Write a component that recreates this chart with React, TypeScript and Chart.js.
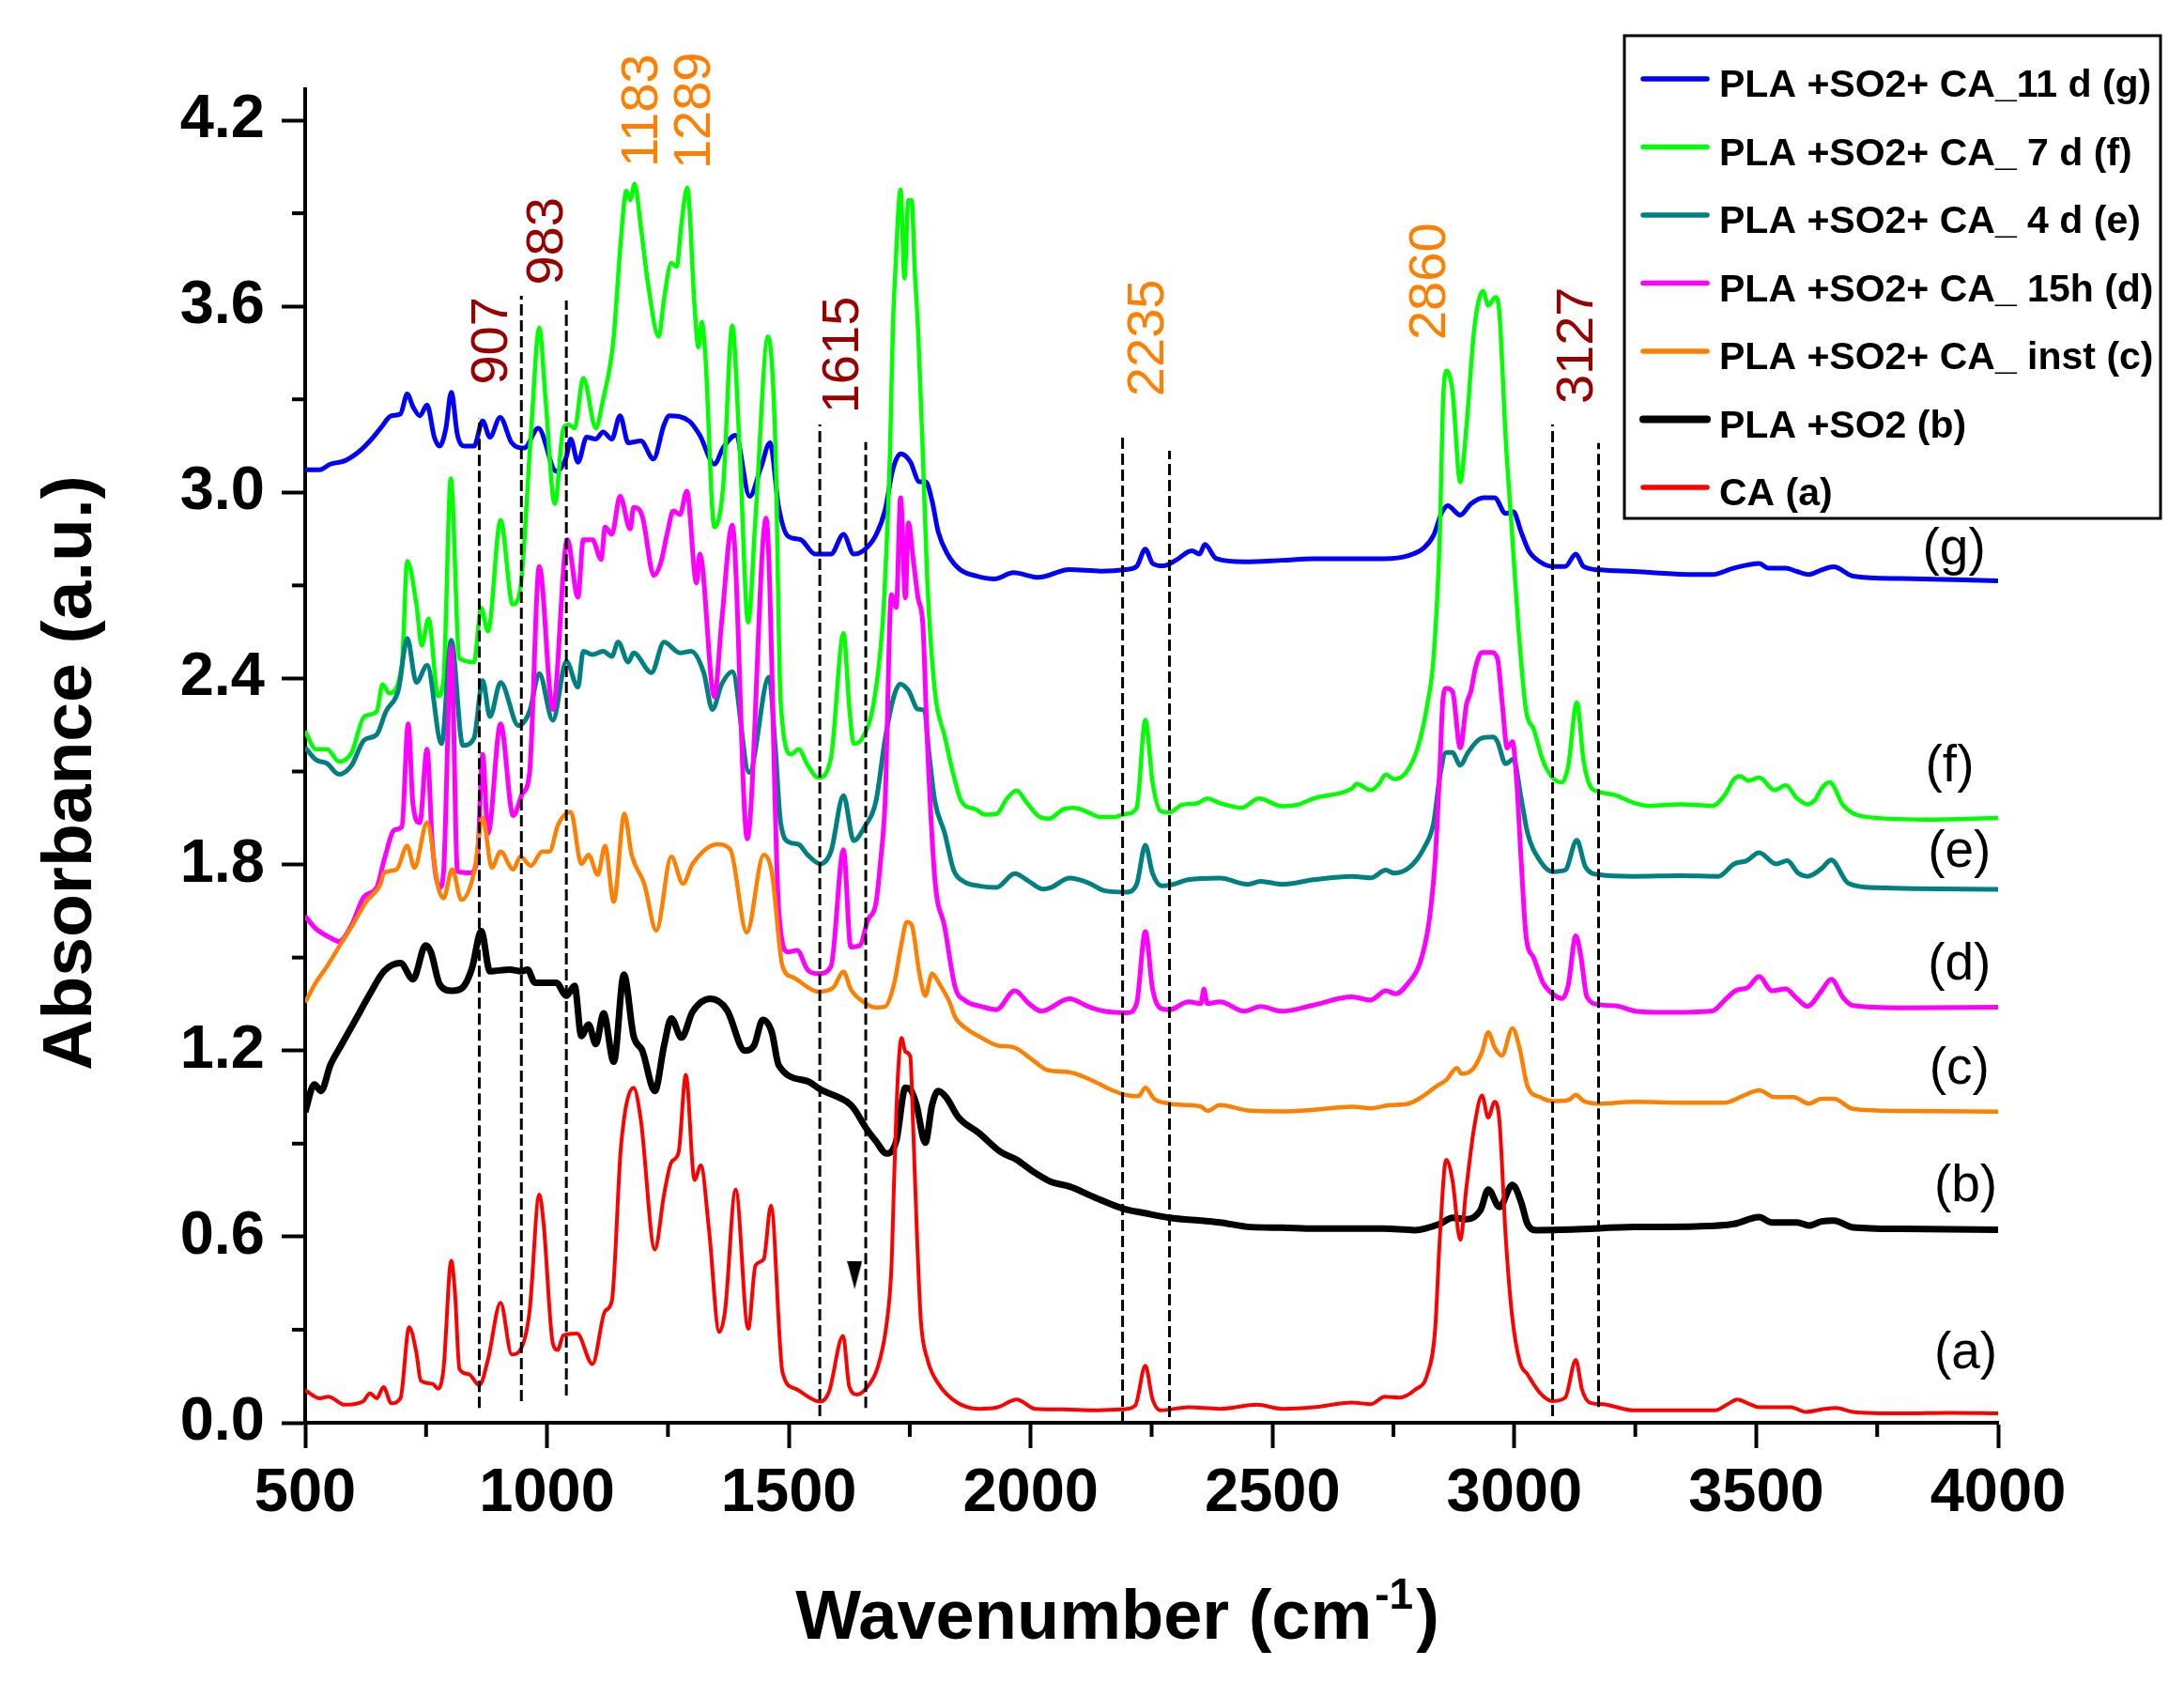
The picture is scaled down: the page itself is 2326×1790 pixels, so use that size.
import { useEffect, useRef } from "react"
import { Chart, registerables } from "chart.js"

Chart.register(...registerables)

const FONT = "'Liberation Sans', Arial, Helvetica, sans-serif"

// spectra as [wavenumber (cm-1), absorbance (a.u.)]
const caA = [
  [500, 0.105], [530, 0.079], [548, 0.084], [582, 0.058], [619, 0.068], [634, 0.095], [648, 0.079],
  [662, 0.115], [678, 0.063], [697, 0.079], [715, 0.308], [730, 0.225], [739, 0.136], [763, 0.126],
  [775, 0.11], [786, 0.173], [802, 0.522], [810, 0.413], [819, 0.173], [838, 0.157], [860, 0.121],
  [878, 0.204], [904, 0.387], [927, 0.22], [947, 0.241], [964, 0.36], [984, 0.736], [993, 0.642],
  [1012, 0.256], [1022, 0.235], [1034, 0.282], [1062, 0.288], [1094, 0.189], [1120, 0.36], [1134, 0.392],
  [1153, 0.892], [1179, 1.08], [1194, 0.976], [1223, 0.559], [1242, 0.736], [1257, 0.84], [1272, 0.872],
  [1287, 1.122], [1305, 0.783], [1318, 0.83], [1335, 0.621], [1356, 0.293], [1368, 0.36], [1390, 0.752],
  [1416, 0.303], [1431, 0.507], [1448, 0.527], [1463, 0.7], [1487, 0.162], [1513, 0.11], [1565, 0.068],
  [1583, 0.1], [1612, 0.28], [1625, 0.116], [1641, 0.091], [1660, 0.111], [1683, 0.176], [1702, 0.318],
  [1712, 0.499], [1718, 0.802], [1725, 1.105], [1733, 1.241], [1741, 1.196], [1751, 1.181], [1757, 0.954],
  [1765, 0.6], [1773, 0.328], [1786, 0.207], [1809, 0.126], [1848, 0.065], [1893, 0.045], [1932, 0.05],
  [1971, 0.075], [2009, 0.045], [2067, 0.043], [2132, 0.04], [2190, 0.043], [2216, 0.055], [2237, 0.184],
  [2252, 0.075], [2268, 0.04], [2326, 0.05], [2391, 0.045], [2468, 0.058], [2520, 0.045], [2585, 0.05],
  [2664, 0.065], [2703, 0.06], [2732, 0.084], [2762, 0.081], [2794, 0.106], [2820, 0.156], [2836, 0.298],
  [2846, 0.6], [2859, 0.848], [2872, 0.782], [2888, 0.59], [2901, 0.762], [2917, 0.954], [2933, 1.055],
  [2946, 0.984], [2959, 1.035], [2969, 0.974], [2982, 0.6], [2995, 0.348], [3011, 0.197], [3027, 0.156],
  [3053, 0.096], [3079, 0.07], [3105, 0.081], [3127, 0.202], [3140, 0.106], [3156, 0.065], [3182, 0.06],
  [3247, 0.04], [3344, 0.04], [3415, 0.04], [3441, 0.06], [3461, 0.075], [3486, 0.06], [3506, 0.05],
  [3571, 0.05], [3603, 0.035], [3635, 0.043], [3665, 0.048], [3700, 0.035], [3800, 0.03], [3900, 0.032],
  [4000, 0.03],
]

const plaSo2B = [
  [500, 1.002], [519, 1.091], [533, 1.07], [552, 1.153], [574, 1.216], [604, 1.299], [634, 1.383],
  [663, 1.456], [697, 1.482], [723, 1.43], [749, 1.539], [760, 1.518], [778, 1.414], [804, 1.393],
  [826, 1.404], [845, 1.466], [864, 1.585], [882, 1.456], [923, 1.461], [947, 1.456], [960, 1.461],
  [975, 1.419], [1019, 1.419], [1040, 1.377], [1057, 1.409], [1071, 1.247], [1086, 1.284], [1101, 1.221],
  [1117, 1.32], [1138, 1.164], [1159, 1.445], [1179, 1.247], [1197, 1.2], [1223, 1.07], [1242, 1.216],
  [1257, 1.304], [1278, 1.242], [1301, 1.325], [1338, 1.367], [1372, 1.331], [1409, 1.2], [1428, 1.216],
  [1446, 1.299], [1465, 1.258], [1479, 1.153], [1539, 1.101], [1565, 1.075], [1620, 1.035], [1634, 1.014],
  [1660, 0.949], [1680, 0.908], [1702, 0.868], [1722, 0.908], [1741, 1.08], [1751, 1.075], [1764, 1.024],
  [1782, 0.903], [1796, 1.024], [1809, 1.07], [1825, 1.05], [1851, 0.984], [1893, 0.934], [1938, 0.873],
  [1971, 0.848], [2003, 0.812], [2042, 0.777], [2080, 0.762], [2132, 0.727], [2190, 0.691], [2236, 0.676],
  [2287, 0.661], [2358, 0.651], [2391, 0.646], [2455, 0.631], [2520, 0.629], [2585, 0.626], [2664, 0.626],
  [2729, 0.626], [2794, 0.621], [2846, 0.641], [2872, 0.661], [2901, 0.656], [2930, 0.686], [2946, 0.752],
  [2969, 0.696], [2996, 0.767], [3014, 0.711], [3027, 0.641], [3046, 0.621], [3118, 0.623], [3247, 0.631],
  [3376, 0.633], [3454, 0.641], [3506, 0.663], [3532, 0.646], [3584, 0.646], [3609, 0.636], [3635, 0.649],
  [3660, 0.652], [3700, 0.63], [3800, 0.625], [4000, 0.622],
]

const instC = [
  [500, 1.355], [522, 1.419], [545, 1.471], [570, 1.535], [596, 1.599], [626, 1.68], [656, 1.738],
  [663, 1.773], [689, 1.784], [711, 1.86], [726, 1.79], [752, 1.935], [775, 1.726], [786, 1.691],
  [804, 1.784], [823, 1.686], [849, 1.773], [867, 1.952], [886, 1.79], [904, 1.842], [930, 1.784],
  [945, 1.825], [967, 1.796], [990, 1.842], [1005, 1.842], [1023, 1.929], [1049, 1.97], [1071, 1.802],
  [1086, 1.831], [1105, 1.767], [1120, 1.86], [1138, 1.68], [1160, 1.964], [1175, 1.831], [1201, 1.738],
  [1226, 1.587], [1257, 1.825], [1281, 1.738], [1301, 1.802], [1353, 1.865], [1379, 1.848], [1413, 1.581],
  [1448, 1.831], [1465, 1.773], [1487, 1.471], [1509, 1.436], [1561, 1.39], [1591, 1.402], [1613, 1.454],
  [1628, 1.398], [1654, 1.357], [1680, 1.339], [1699, 1.342], [1718, 1.418], [1731, 1.529], [1744, 1.615],
  [1754, 1.605], [1770, 1.448], [1782, 1.377], [1796, 1.448], [1812, 1.413], [1832, 1.357], [1844, 1.307],
  [1867, 1.271], [1899, 1.241], [1932, 1.216], [1964, 1.211], [2003, 1.171], [2035, 1.137], [2080, 1.13],
  [2132, 1.1], [2164, 1.075], [2197, 1.057], [2223, 1.053], [2237, 1.08], [2255, 1.045], [2287, 1.029],
  [2326, 1.024], [2352, 1.019], [2365, 1.006], [2391, 1.024], [2455, 1.006], [2520, 1.004], [2585, 1.009],
  [2664, 1.019], [2703, 1.014], [2742, 1.024], [2781, 1.029], [2813, 1.055], [2839, 1.085], [2859, 1.105],
  [2881, 1.144], [2891, 1.125], [2914, 1.14], [2933, 1.196], [2946, 1.259], [2959, 1.211], [2974, 1.184],
  [2996, 1.272], [3011, 1.206], [3027, 1.085], [3053, 1.05], [3079, 1.037], [3111, 1.04], [3127, 1.057],
  [3143, 1.037], [3176, 1.029], [3247, 1.035], [3344, 1.032], [3435, 1.032], [3474, 1.055], [3506, 1.072],
  [3538, 1.05], [3577, 1.05], [3609, 1.029], [3635, 1.045], [3660, 1.045], [3700, 1.012], [3800, 1.005],
  [4000, 1.003],
]

const h15D = [
  [500, 1.634], [522, 1.593], [552, 1.564], [570, 1.552], [596, 1.605], [622, 1.697], [648, 1.726],
  [663, 1.813], [685, 1.912], [700, 1.923], [713, 2.254], [723, 1.993], [737, 1.935], [752, 2.172],
  [763, 1.865], [778, 1.726], [786, 1.773], [802, 2.5], [815, 1.778], [841, 1.773], [856, 1.819],
  [867, 2.155], [878, 1.9], [904, 2.254], [930, 1.958], [949, 2.028], [964, 2.097], [984, 2.761],
  [1012, 2.3], [1042, 2.847], [1064, 2.662], [1075, 2.847], [1094, 2.847], [1112, 2.784], [1120, 2.888],
  [1134, 2.865], [1151, 2.987], [1172, 2.882], [1179, 2.952], [1197, 2.923], [1221, 2.732], [1235, 2.772],
  [1249, 2.871], [1261, 2.94], [1275, 2.929], [1289, 3.004], [1309, 2.708], [1316, 2.801], [1346, 2.34],
  [1361, 2.581], [1383, 2.894], [1414, 1.883], [1453, 2.917], [1479, 1.657], [1498, 1.518], [1517, 1.523],
  [1539, 1.46], [1561, 1.448], [1587, 1.471], [1613, 1.848], [1628, 1.534], [1647, 1.539], [1663, 1.62],
  [1680, 1.675], [1689, 1.802], [1699, 2.003], [1712, 2.67], [1722, 2.629], [1731, 2.983], [1741, 2.66],
  [1747, 2.902], [1757, 2.786], [1767, 2.66], [1777, 2.574], [1786, 2.205], [1802, 1.751], [1822, 1.6],
  [1844, 1.403], [1864, 1.362], [1899, 1.342], [1929, 1.332], [1967, 1.393], [1996, 1.352], [2022, 1.327],
  [2080, 1.367], [2119, 1.342], [2152, 1.327], [2200, 1.322], [2219, 1.352], [2237, 1.584], [2252, 1.398],
  [2268, 1.337], [2287, 1.332], [2326, 1.357], [2352, 1.352], [2358, 1.398], [2365, 1.352], [2391, 1.357],
  [2442, 1.327], [2475, 1.342], [2520, 1.327], [2585, 1.347], [2664, 1.373], [2703, 1.363], [2734, 1.393],
  [2755, 1.383], [2781, 1.419], [2804, 1.479], [2823, 1.61], [2836, 1.812], [2846, 2.115], [2852, 2.327],
  [2859, 2.368], [2872, 2.358], [2888, 2.176], [2901, 2.317], [2910, 2.358], [2920, 2.438], [2933, 2.484],
  [2952, 2.484], [2965, 2.464], [2975, 2.317], [2985, 2.176], [2996, 2.196], [3004, 2.085], [3014, 1.812],
  [3024, 1.57], [3040, 1.499], [3059, 1.419], [3079, 1.383], [3098, 1.368], [3111, 1.409], [3127, 1.57],
  [3137, 1.509], [3150, 1.373], [3176, 1.348], [3215, 1.343], [3247, 1.328], [3312, 1.323], [3409, 1.328],
  [3435, 1.363], [3457, 1.393], [3483, 1.404], [3506, 1.439], [3532, 1.393], [3561, 1.399], [3584, 1.368],
  [3606, 1.343], [3635, 1.393], [3655, 1.43], [3680, 1.37], [3700, 1.345], [3800, 1.338], [4000, 1.34],
]

const d4E = [
  [500, 2.178], [522, 2.138], [545, 2.126], [570, 2.091], [596, 2.12], [622, 2.201], [648, 2.219],
  [667, 2.294], [693, 2.364], [711, 2.529], [730, 2.387], [752, 2.442], [782, 2.19], [802, 2.523],
  [826, 2.184], [849, 2.207], [867, 2.393], [882, 2.277], [904, 2.387], [941, 2.248], [964, 2.294],
  [984, 2.416], [1012, 2.265], [1040, 2.455], [1064, 2.372], [1075, 2.488], [1094, 2.477], [1116, 2.488],
  [1134, 2.471], [1147, 2.517], [1168, 2.453], [1179, 2.482], [1216, 2.419], [1242, 2.517], [1275, 2.482],
  [1298, 2.488], [1324, 2.419], [1342, 2.3], [1361, 2.381], [1383, 2.422], [1418, 2.097], [1459, 2.404],
  [1472, 2.178], [1483, 1.935], [1502, 1.871], [1520, 1.865], [1539, 1.831], [1565, 1.802], [1587, 1.842],
  [1613, 2.022], [1634, 1.877], [1657, 1.923], [1680, 2.003], [1699, 2.205], [1718, 2.347], [1730, 2.382],
  [1747, 2.362], [1767, 2.301], [1780, 2.296], [1790, 2.155], [1802, 2.003], [1822, 1.902], [1841, 1.781],
  [1861, 1.746], [1893, 1.731], [1929, 1.726], [1967, 1.771], [1996, 1.746], [2025, 1.721], [2042, 1.726],
  [2080, 1.756], [2119, 1.741], [2152, 1.716], [2197, 1.711], [2219, 1.736], [2237, 1.862], [2252, 1.771],
  [2271, 1.731], [2294, 1.736], [2326, 1.751], [2391, 1.756], [2449, 1.736], [2475, 1.746], [2520, 1.736],
  [2585, 1.751], [2664, 1.762], [2703, 1.757], [2734, 1.782], [2752, 1.772], [2784, 1.792], [2813, 1.853],
  [2833, 1.934], [2846, 2.085], [2859, 2.161], [2872, 2.161], [2888, 2.12], [2904, 2.161], [2930, 2.206],
  [2956, 2.211], [2965, 2.196], [2982, 2.125], [2998, 2.14], [3014, 2.014], [3027, 1.903], [3053, 1.812],
  [3079, 1.777], [3105, 1.782], [3129, 1.878], [3147, 1.792], [3176, 1.767], [3247, 1.762], [3344, 1.764],
  [3422, 1.762], [3454, 1.802], [3480, 1.812], [3506, 1.838], [3541, 1.802], [3564, 1.812], [3587, 1.772],
  [3606, 1.762], [3635, 1.787], [3655, 1.815], [3690, 1.74], [3750, 1.725], [4000, 1.72],
]

const d7F = [
  [500, 2.23], [522, 2.172], [545, 2.172], [570, 2.132], [596, 2.161], [622, 2.277], [648, 2.294],
  [660, 2.381], [674, 2.352], [700, 2.445], [711, 2.778], [730, 2.639], [741, 2.506], [755, 2.593],
  [775, 2.343], [786, 2.395], [801, 3.045], [819, 2.465], [849, 2.453], [864, 2.627], [878, 2.552],
  [904, 2.911], [929, 2.639], [945, 2.691], [967, 3.195], [984, 3.531], [997, 3.3], [1016, 2.963],
  [1034, 3.207], [1045, 3.218], [1057, 3.207], [1075, 3.369], [1101, 3.207], [1116, 3.3], [1131, 3.415],
  [1138, 3.502], [1153, 3.821], [1164, 3.972], [1172, 3.943], [1181, 3.995], [1194, 3.856], [1209, 3.67],
  [1231, 3.502], [1242, 3.624], [1257, 3.74], [1268, 3.728], [1278, 3.867], [1290, 3.983], [1305, 3.601],
  [1313, 3.468], [1320, 3.549], [1327, 3.45], [1346, 2.888], [1364, 3.016], [1383, 3.537], [1398, 3.149],
  [1416, 2.581], [1431, 2.917], [1457, 3.502], [1472, 3.16], [1483, 2.326], [1505, 2.155], [1520, 2.172],
  [1539, 2.12], [1561, 2.08], [1587, 2.144], [1613, 2.546], [1625, 2.306], [1634, 2.19], [1651, 2.205],
  [1676, 2.326], [1693, 2.559], [1699, 2.721], [1709, 3.124], [1715, 3.528], [1720, 3.71], [1731, 3.977],
  [1739, 3.69], [1747, 3.942], [1754, 3.942], [1760, 3.725], [1767, 3.528], [1777, 3.124], [1786, 2.721],
  [1802, 2.357], [1822, 2.215], [1838, 2.104], [1857, 2.003], [1886, 1.978], [1906, 1.961], [1929, 1.963],
  [1951, 2.013], [1971, 2.039], [1990, 2.003], [2019, 1.953], [2038, 1.948], [2067, 1.978], [2090, 1.983],
  [2119, 1.968], [2145, 1.953], [2171, 1.953], [2197, 1.963], [2219, 1.983], [2237, 2.266], [2252, 2.064],
  [2268, 1.973], [2287, 1.968], [2313, 1.993], [2345, 1.998], [2365, 2.013], [2391, 1.998], [2436, 1.983],
  [2472, 2.013], [2520, 1.988], [2552, 1.993], [2585, 2.013], [2664, 2.045], [2674, 2.06], [2703, 2.04],
  [2720, 2.06], [2734, 2.09], [2752, 2.075], [2775, 2.095], [2800, 2.176], [2820, 2.317], [2833, 2.469],
  [2846, 2.872], [2852, 3.275], [2860, 3.392], [2872, 3.326], [2888, 3.033], [2901, 3.215], [2917, 3.528],
  [2935, 3.649], [2946, 3.603], [2961, 3.629], [2969, 3.578], [2982, 3.174], [2995, 2.872], [3008, 2.569],
  [3024, 2.297], [3040, 2.236], [3059, 2.135], [3079, 2.08], [3098, 2.065], [3111, 2.115], [3129, 2.322],
  [3143, 2.135], [3156, 2.055], [3176, 2.034], [3208, 2.024], [3247, 1.999], [3279, 1.989], [3344, 1.994],
  [3409, 1.989], [3435, 2.024], [3454, 2.075], [3467, 2.085], [3483, 2.07], [3506, 2.08], [3538, 2.04],
  [3561, 2.055], [3584, 2.014], [3606, 1.994], [3622, 2.009], [3635, 2.045], [3652, 2.065], [3680, 1.99],
  [3720, 1.955], [3850, 1.945], [4000, 1.95],
]

const d11G = [
  [500, 3.073], [530, 3.073], [552, 3.091], [582, 3.102], [611, 3.131], [634, 3.166], [656, 3.207],
  [678, 3.247], [697, 3.253], [711, 3.317], [723, 3.276], [737, 3.247], [752, 3.282], [767, 3.178],
  [778, 3.149], [791, 3.207], [802, 3.323], [815, 3.184], [830, 3.149], [849, 3.149], [867, 3.23],
  [882, 3.178], [903, 3.242], [927, 3.16], [953, 3.143], [982, 3.207], [1019, 3.068], [1040, 3.114],
  [1049, 3.172], [1064, 3.097], [1082, 3.178], [1101, 3.172], [1116, 3.195], [1134, 3.172], [1151, 3.247],
  [1168, 3.16], [1194, 3.166], [1220, 3.108], [1242, 3.218], [1253, 3.247], [1294, 3.23], [1316, 3.184],
  [1346, 3.091], [1364, 3.143], [1390, 3.184], [1419, 2.987], [1442, 3.079], [1461, 3.16], [1479, 2.952],
  [1498, 2.859], [1524, 2.848], [1554, 2.801], [1587, 2.801], [1613, 2.865], [1634, 2.801], [1654, 2.812],
  [1680, 2.862], [1699, 2.943], [1715, 3.074], [1731, 3.124], [1751, 3.099], [1770, 3.034], [1783, 3.034],
  [1796, 2.973], [1809, 2.872], [1828, 2.801], [1854, 2.751], [1886, 2.731], [1925, 2.721], [1964, 2.741],
  [2016, 2.726], [2080, 2.751], [2145, 2.746], [2197, 2.751], [2219, 2.761], [2237, 2.817], [2252, 2.771],
  [2274, 2.763], [2300, 2.781], [2333, 2.812], [2349, 2.801], [2360, 2.832], [2384, 2.786], [2442, 2.776],
  [2520, 2.781], [2585, 2.786], [2664, 2.786], [2729, 2.786], [2781, 2.796], [2813, 2.821], [2833, 2.862],
  [2849, 2.932], [2862, 2.957], [2888, 2.927], [2910, 2.963], [2936, 2.983], [2959, 2.983], [2982, 2.932],
  [2998, 2.937], [3014, 2.872], [3030, 2.811], [3053, 2.776], [3079, 2.761], [3105, 2.761], [3127, 2.801],
  [3143, 2.761], [3176, 2.75], [3247, 2.745], [3376, 2.735], [3409, 2.735], [3454, 2.756], [3506, 2.771],
  [3525, 2.756], [3561, 2.756], [3584, 2.745], [3609, 2.735], [3635, 2.75], [3660, 2.76], [3700, 2.73],
  [3800, 2.722], [4000, 2.715],
]

// legend order, top to bottom
const seriesNames = [
  "PLA +SO2+ CA_11 d (g)",
  "PLA +SO2+ CA_ 7 d (f)",
  "PLA +SO2+ CA_ 4 d (e)",
  "PLA +SO2+ CA_ 15h (d)",
  "PLA +SO2+ CA_ inst (c)",
  "PLA +SO2 (b)",
  "CA (a)",
]
const seriesData = [d11G, d7F, d4E, h15D, instC, plaSo2B, caA]
const seriesColors = ["#0000FF", "#00FF00", "#008080", "#FF00FF", "#FF8000", "#000000", "#FF0000"]
const seriesWidths = [5, 4.5, 5, 5, 4.5, 7, 4]

// curve tags at the right end: [text, wavenumber, absorbance]
const curveTags = [
  ["(g)", 3909, 2.813],
  ["(f)", 3900, 2.114],
  ["(e)", 3920, 1.838],
  ["(d)", 3920, 1.475],
  ["(c)", 3920, 1.139],
  ["(b)", 3933, 0.76],
  ["(a)", 3933, 0.221],
]

// band labels: [text, wavenumber, absorbance, colour]
const bandLabels = [
  ["907", 888, 3.489, "#990000"],
  ["983", 1002, 3.81, "#990000"],
  ["1183", 1198, 4.231, "#FF8000"],
  ["1289", 1307, 4.231, "#FF8000"],
  ["1615", 1614, 3.443, "#990000"],
  ["2235", 2245, 3.498, "#FF8000"],
  ["2860", 2826, 3.68, "#FF8000"],
  ["3127", 3131, 3.474, "#990000"],
]

// dashed guide lines: [wavenumber, bottom, top]
const guideLines = [
  [860, 0.048, 3.24], [947, 0.07, 3.634], [1040, 0.088, 3.619],
  [1564, 0.021, 3.219], [1659, 0.048, 3.162],
  [2190, 0.0, 3.189], [2287, 0.018, 3.134],
  [3079, 0.021, 3.219], [3174, 0.051, 3.159],
]

const arrowMark = [1636, 0.476]

function makeTriangle() {
  const c = document.createElement("canvas")
  c.width = 16
  c.height = 30
  const g = c.getContext("2d")!
  g.fillStyle = "#000"
  g.beginPath()
  g.moveTo(0, 0)
  g.lineTo(16, 0)
  g.lineTo(8, 30)
  g.closePath()
  g.fill()
  return c
}

const minorTicks = {
  id: "minorTicks",
  afterDraw(chart: any) {
    const ctx = chart.ctx
    const { x, y } = chart.scales
    ctx.save()
    ctx.strokeStyle = "#000"
    ctx.lineWidth = 4
    y.ticks.forEach((t: any, i: number) => {
      if (i % 2 === 0) return
      const py = y.getPixelForValue(t.value)
      ctx.beginPath()
      ctx.moveTo(y.right - 14, py)
      ctx.lineTo(y.right, py)
      ctx.stroke()
    })
    x.ticks.forEach((t: any, i: number) => {
      if (i % 2 === 0) return
      const px = x.getPixelForValue(t.value)
      ctx.beginPath()
      ctx.moveTo(px, x.top)
      ctx.lineTo(px, x.top + 15)
      ctx.stroke()
    })
    ctx.restore()
  },
}

const annotations = {
  id: "annotations",
  afterDraw(chart: any) {
    const ctx = chart.ctx
    const { x, y } = chart.scales
    ctx.save()
    // band labels, rotated
    ctx.font = `56px ${FONT}`
    ctx.textAlign = "center"
    ctx.textBaseline = "middle"
    bandLabels.forEach(([t, wn, ab, col]: any) => {
      ctx.save()
      ctx.translate(x.getPixelForValue(wn), y.getPixelForValue(ab))
      ctx.rotate(-Math.PI / 2)
      ctx.fillStyle = col
      ctx.fillText(t, 0, 0)
      ctx.restore()
    })
    // curve tags
    ctx.font = `55px ${FONT}`
    ctx.fillStyle = "#000"
    curveTags.forEach(([t, wn, ab]: any) => {
      ctx.fillText(t, x.getPixelForValue(wn), y.getPixelForValue(ab))
    })

    // axis titles
    ctx.textBaseline = "alphabetic"
    ctx.save()
    ctx.translate(97, 823)
    ctx.rotate(-Math.PI / 2)
    ctx.font = `bold 75px ${FONT}`
    ctx.textAlign = "center"
    ctx.fillText("Absorbance (a.u.)", 0, 0)
    ctx.restore()

    ctx.textAlign = "left"
    const big = `bold 74px ${FONT}`
    const small = `bold 46px ${FONT}`
    ctx.font = big
    const w1 = ctx.measureText("Wavenumber (cm").width
    const w3 = ctx.measureText(")").width
    ctx.font = small
    const w2 = ctx.measureText("-1").width
    const start = 1190 - (w1 + w2 + w3 + 6) / 2
    const base = 1745
    ctx.font = big
    ctx.fillText("Wavenumber (cm", start, base)
    ctx.font = small
    ctx.fillText("-1", start + w1 + 3, base - 32)
    ctx.font = big
    ctx.fillText(")", start + w1 + w2 + 6, base)

    // legend box
    const bx = 1730, by = 38, bw = 571, bh = 514
    ctx.fillStyle = "#fff"
    ctx.fillRect(bx, by, bw, bh)
    ctx.strokeStyle = "#000"
    ctx.lineWidth = 3
    ctx.strokeRect(bx, by, bw, bh)
    ctx.font = `bold 41px ${FONT}`
    ctx.lineCap = "round"
    seriesNames.forEach((name, i) => {
      const ry = 84 + i * 72.5
      ctx.strokeStyle = seriesColors[i]
      ctx.lineWidth = seriesWidths[i] >= 6 ? 8 : 5.5
      ctx.beginPath()
      ctx.moveTo(1750, ry)
      ctx.lineTo(1818, ry)
      ctx.stroke()
      ctx.fillStyle = "#000"
      ctx.fillText(name, 1831, ry + 19)
    })
    ctx.restore()
  },
}

export default function App() {
  const chartRef = useRef<HTMLCanvasElement>(null)
  const chartInstance = useRef<Chart | null>(null)

  useEffect(() => {
    document.body.style.margin = "0"
    if (!chartRef.current) return
    if (chartInstance.current) chartInstance.current.destroy()

    const curveSets = seriesData
      .map((d, i) => ({
        label: seriesNames[i],
        data: d.map(([wn, ab]) => ({ x: wn, y: ab })),
        borderColor: seriesColors[i],
        borderWidth: seriesWidths[i],
        pointRadius: 0,
        cubicInterpolationMode: "monotone" as const,
        fill: false,
      }))
      .reverse() // CA on top, 11 d at the back

    const guideSets = guideLines.map(([wn, lo, hi]) => ({
      label: "guide " + wn,
      data: [{ x: wn, y: lo }, { x: wn, y: hi }],
      borderColor: "#000",
      borderWidth: 3,
      borderDash: [12, 5],
      pointRadius: 0,
      fill: false,
    }))

    const arrowSet = {
      label: "arrow",
      data: [{ x: arrowMark[0], y: arrowMark[1] }],
      showLine: false,
      pointStyle: makeTriangle(),
      pointRadius: 10,
      borderWidth: 0,
    }

    const ctx = chartRef.current.getContext("2d")
    if (!ctx) return
    chartInstance.current = new Chart(ctx, {
      type: "line",
      data: { datasets: [...guideSets, arrowSet, ...curveSets] as any },
      plugins: [minorTicks, annotations],
      options: {
        animation: false,
        responsive: false,
        devicePixelRatio: 1,
        events: [],
        layout: { padding: { left: 0, right: 198, top: 95, bottom: 0 } },
        plugins: { legend: { display: false }, tooltip: { enabled: false } },
        scales: {
          x: {
            type: "linear",
            min: 500,
            max: 4000,
            afterFit: (s: any) => {
              s.height = 275
            },
            border: { display: true, color: "#000", width: 4 },
            grid: {
              drawOnChartArea: false,
              tickLength: 27,
              tickWidth: 4,
              tickColor: (c: any) => (c.index % 2 === 0 ? "#000" : "rgba(0,0,0,0)"),
            },
            ticks: {
              stepSize: 250,
              autoSkip: false,
              maxRotation: 0,
              includeBounds: false,
              padding: 10,
              color: "#000",
              font: { family: FONT, size: 65, weight: "bold" },
              callback: (v: any, i: number) => (i % 2 === 0 ? String(Math.round(v)) : ""),
            },
          },
          y: {
            type: "linear",
            min: 0,
            max: 4.3,
            afterFit: (s: any) => {
              s.width = 325
            },
            border: { display: true, color: "#000", width: 4 },
            grid: {
              drawOnChartArea: false,
              tickLength: 25,
              tickWidth: 4,
              tickColor: (c: any) => (c.index % 2 === 0 ? "#000" : "rgba(0,0,0,0)"),
            },
            ticks: {
              stepSize: 0.3,
              autoSkip: false,
              includeBounds: false,
              padding: 18,
              color: "#000",
              font: { family: FONT, size: 65, weight: "bold" },
              callback: (v: any, i: number) => (i % 2 === 0 ? (Math.round(v * 10) / 10).toFixed(1) : ""),
            },
          },
        },
      },
    })

    return () => {
      if (chartInstance.current) {
        chartInstance.current.destroy()
        chartInstance.current = null
      }
    }
  }, [])

  return (
    <div style={{ width: 2326, height: 1790, background: "#fff" }}>
      <canvas ref={chartRef} width={2326} height={1790} style={{ display: "block" }} />
    </div>
  )
}
